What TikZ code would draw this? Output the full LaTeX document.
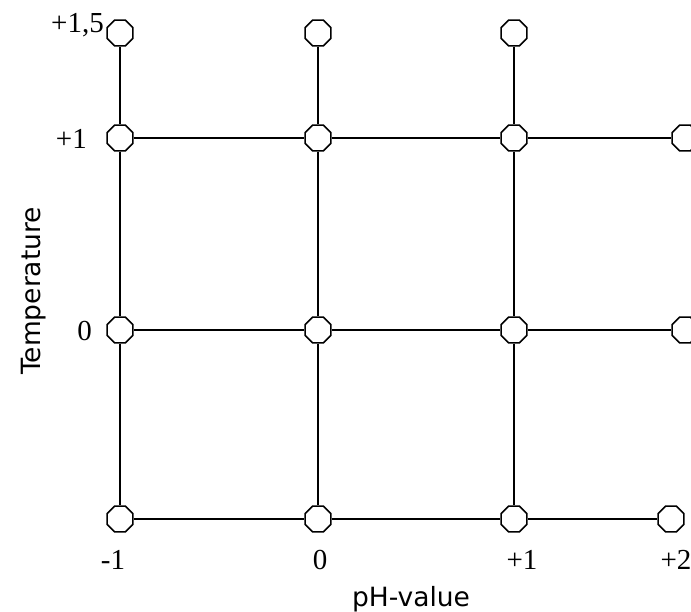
\documentclass[tikz,border=0pt]{standalone}
\usepackage{fontspec}
\setmainfont{Liberation Serif}
\newfontfamily\axisfont{DejaVu Sans}
\usetikzlibrary{shapes.geometric}
\begin{document}
\begin{tikzpicture}[x=1pt,y=-1pt,
  oct/.style={regular polygon,regular polygon sides=8,draw,fill=white,line width=1.5pt,inner sep=0pt,minimum size=28pt},
  gridline/.style={line width=1.5pt},
  numlbl/.style={font=\fontsize{29}{33}\selectfont,inner sep=0pt},
  axislbl/.style={font=\axisfont\fontsize{26.5}{30}\selectfont,inner sep=0pt}]
\useasboundingbox (0,0) rectangle (691,611);
\clip (0,0) rectangle (691,611);
% top row (+1,5)
\node[oct] (t1) at (120,33) {};
\node[oct] (t2) at (318,33) {};
\node[oct] (t3) at (514,33) {};
% row +1
\node[oct] (a1) at (120,138) {};
\node[oct] (a2) at (318,138) {};
\node[oct] (a3) at (514,138) {};
\node[oct] (a4) at (685,138) {};
% row 0
\node[oct] (b1) at (120,330) {};
\node[oct] (b2) at (318,330) {};
\node[oct] (b3) at (514,330) {};
\node[oct] (b4) at (685,330) {};
% bottom row
\node[oct] (c1) at (120,519) {};
\node[oct] (c2) at (318,519) {};
\node[oct] (c3) at (514,519) {};
\node[oct] (c4) at (671,519) {};
% vertical lines
\draw[gridline] (t1) -- (a1) (a1) -- (b1) (b1) -- (c1);
\draw[gridline] (t2) -- (a2) (a2) -- (b2) (b2) -- (c2);
\draw[gridline] (t3) -- (a3) (a3) -- (b3) (b3) -- (c3);
% horizontal lines
\draw[gridline] (a1) -- (a2) (a2) -- (a3) (a3) -- (a4);
\draw[gridline] (b1) -- (b2) (b2) -- (b3) (b3) -- (b4);
\draw[gridline] (c1) -- (c2) (c2) -- (c3) (c3) -- (c4);
% y labels
\node[numlbl,anchor=base east] (y15) at (104,32) {+1,5};
\node[numlbl,anchor=base east] (y1) at (87,148) {+1};
\node[numlbl,anchor=base east] (y0) at (92,340) {0};
% x labels
\node[numlbl,anchor=base] (xm1) at (113,569) {-1};
\node[numlbl,anchor=base] (x0) at (320,569) {0};
\node[numlbl,anchor=base] (xp1) at (522,569) {+1};
\node[numlbl,anchor=base] (xp2) at (676,569) {+2};
% axis titles
\node[axislbl,anchor=base] (xt) at (411,606) {pH-value};
\node[axislbl,anchor=base,rotate=90] (yt) at (40,291) {Temperature};
\end{tikzpicture}
\end{document}
